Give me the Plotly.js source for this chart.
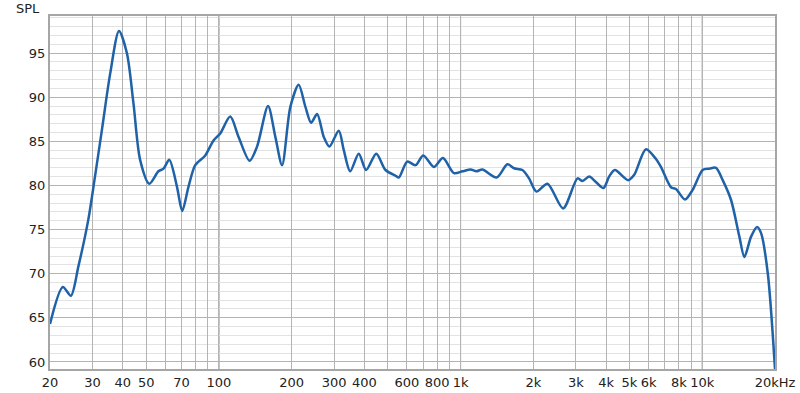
<!DOCTYPE html>
<html>
<head>
<meta charset="utf-8">
<script src="https://cdn.plot.ly/plotly-3.0.1.min.js"></script>
<style>html,body{margin:0;padding:0;background:#fff;}#chart{width:800px;height:393px;}</style>
</head>
<body>
<div id="chart"></div>
<script>
var freqHz = [20, 22.6, 24.4, 26.2, 28.8, 30.7, 32.8, 35.5, 38.6, 41.6, 44.3, 47.2, 51.5, 56.2, 59.0, 62.3, 67.0, 70.5, 74.9, 79.8, 87.8, 95.0, 101.3, 111.4, 120.6, 133.9, 143.8, 159.7, 171.2, 182.5, 197.5, 213.8, 228.0, 240.7, 254.9, 271.5, 286.6, 313.3, 328.6, 349.2, 379.0, 406.7, 447.6, 489.1, 538.1, 555.2, 601.6, 651.0, 700.8, 775.4, 845.1, 938.8, 1017, 1101, 1162, 1231, 1410, 1562, 1664, 1802, 1920, 2060, 2288, 2656, 3047, 3195, 3404, 3628, 3904, 4118, 4349, 4937, 5230, 5846, 6433, 6746, 7420, 7782, 8483, 9126, 10040, 10696, 11402, 12154, 13158, 14244, 14938, 15924, 16860, 17516, 18670, 20000];
var splDb = [64.3, 68.5, 67.5, 70.8, 76.1, 81.0, 86.3, 92.7, 97.5, 95.0, 89.3, 82.9, 80.2, 81.6, 81.9, 82.9, 79.9, 77.1, 79.9, 82.3, 83.4, 85.1, 85.9, 87.8, 85.5, 82.8, 84.4, 89.0, 85.5, 82.3, 88.9, 91.4, 88.9, 87.1, 88.1, 85.5, 84.4, 86.2, 84.0, 81.6, 83.6, 81.75, 83.6, 81.75, 81.1, 80.9, 82.7, 82.3, 83.4, 82.1, 83.1, 81.4, 81.6, 81.8, 81.6, 81.8, 80.9, 82.4, 81.95, 81.75, 80.8, 79.3, 80.2, 77.4, 80.8, 80.5, 81.0, 80.4, 79.7, 81.0, 81.75, 80.6, 81.2, 84.1, 83.0, 82.1, 79.8, 79.6, 78.4, 79.5, 81.75, 81.9, 82.0, 80.6, 78.35, 74.2, 71.9, 74.2, 75.3, 74.6, 70.05, 59.2];

var xGridVals = [20, 30, 40, 50, 60, 70, 80, 90, 100, 200, 300, 400, 500, 600, 700, 800, 900, 1000, 2000, 3000, 4000, 5000, 6000, 7000, 8000, 9000, 10000, 20000];
var xGridText = ["20", "30", "40", "50", "", "70", "", "", "100", "200", "300", "400", "", "600", "", "800", "", "1k", "2k", "3k", "4k", "5k", "6k", "", "8k", "", "10k", "20kHz"];
var decadeLines = [100, 1000, 10000];
var yTickVals = [60, 65, 70, 75, 80, 85, 90, 95];

var trace = {
  x: freqHz, y: splDb, type: 'scatter', mode: 'lines',
  line: {color: '#1f62a8', width: 2.5, shape: 'spline', smoothing: 0.8},
  hoverinfo: 'x+y'
};

var shapes = decadeLines.map(function(v){
  return {type: 'line', xref: 'x', yref: 'paper', x0: v, x1: v, y0: 0, y1: 1,
          line: {color: '#6e6e6e', width: 1}, layer: 'below'};
});

var layout = {
  width: 800, height: 393,
  margin: {l: 50, r: 25, t: 16, b: 24},
  paper_bgcolor: '#ffffff', plot_bgcolor: '#ffffff',
  font: {family: 'DejaVu Sans, sans-serif', size: 13, color: '#222'},
  showlegend: false,
  xaxis: {
    type: 'log', range: [Math.log10(20), Math.log10(20000)],
    tickmode: 'array', tickvals: xGridVals, ticktext: xGridText,
    showgrid: true, gridcolor: '#b4b4b4', gridwidth: 1,
    ticks: '', ticklen: 0, zeroline: false,
    showline: true, mirror: true, linecolor: '#a6a6a6', linewidth: 2,
    tickfont: {size: 13, color: '#222'}, automargin: false
  },
  yaxis: {
    range: [59.2, 99.2], tickmode: 'array', tickvals: yTickVals,
    showgrid: true, gridcolor: '#b4b4b4', gridwidth: 1,
    minor: {dtick: 1, showgrid: true, gridcolor: '#e2e2e2', gridwidth: 1, ticks: ''},
    ticks: '', zeroline: false,
    showline: true, mirror: true, linecolor: '#a6a6a6', linewidth: 2,
    tickfont: {size: 13, color: '#222'}, automargin: false
  },
  shapes: shapes,
  annotations: [{
    text: 'SPL', xref: 'paper', yref: 'paper', x: 0, y: 1, xanchor: 'right', yanchor: 'bottom',
    xshift: -8, yshift: -2, showarrow: false, font: {size: 13, color: '#222'}
  }]
};

Plotly.newPlot('chart', [trace], layout, {displayModeBar: false, staticPlot: true});
</script>
</body>
</html>
